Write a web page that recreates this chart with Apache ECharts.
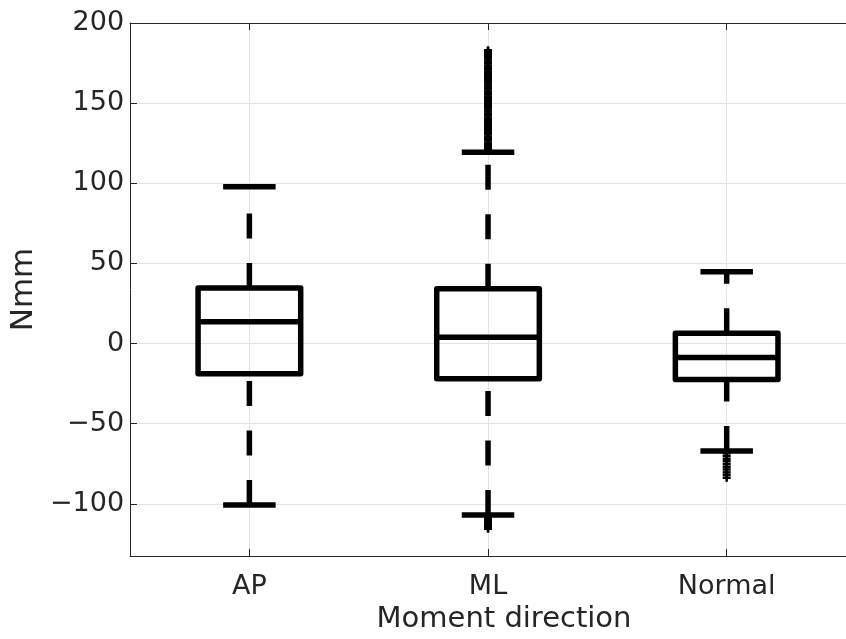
<!DOCTYPE html>
<html>
<head>
<meta charset="utf-8">
<script src="https://cdn.jsdelivr.net/npm/echarts@6/dist/echarts.min.js"></script>
<style>
html,body{margin:0;padding:0;background:#fff;}
#chart{width:846px;height:639px;}
</style>
</head>
<body>
<div id="chart"></div>
<script>
const categories = ['AP', 'ML', 'Normal'];
const lowerWhisker = [-100.8, -107.0, -67.1];
const q1 = [-18.9, -22.0, -22.4];
const median = [13.6, 3.9, -8.7];
const q3 = [34.6, 34.2, 6.4];
const upperWhisker = [97.8, 119.3, 44.8];
const outliersAP = [];
const outliersML = [120.6, 121.8, 123.1, 124.3, 125.4, 126.9, 128.0, 129.2, 130.7, 131.8, 133.1, 134.6, 135.7, 137.0, 138.4, 139.6, 140.9, 142.3, 143.5, 144.8, 146.1, 147.5, 148.7, 150.0, 151.4, 152.6, 153.9, 155.3, 156.5, 157.8, 159.2, 160.4, 161.7, 163.1, 164.3, 165.6, 167.0, 168.2, 169.5, 170.9, 172.1, 173.4, 174.8, 176.0, 177.3, 178.7, 179.9, 181.2, 182.5, 183.0,
  -108.2, -109.4, -110.5, -111.7, -112.8, -113.9, -115.0, -115.6];
const outliersNormal = [-68.4, -70.1, -71.9, -73.5, -75.3, -77.0, -78.6, -80.4, -82.0, -83.8];
const yTicks = [-100, -50, 0, 50, 100, 150, 200];
const xTicks = [1, 2, 3];

const boxData = categories.map((c, i) => [i + 1, lowerWhisker[i], q1[i], median[i], q3[i], upperWhisker[i]]);
const outlierData = [];
outliersAP.forEach(v => outlierData.push([1, v]));
outliersML.forEach(v => outlierData.push([2, v]));
outliersNormal.forEach(v => outlierData.push([3, v]));

const BLACK = '#000000';
const LW = 5.5;

function renderBox(params, api) {
  const x = api.value(0);
  const pLo = api.coord([x, api.value(1)]);
  const pA = api.coord([x, api.value(2)]);
  const pM = api.coord([x, api.value(3)]);
  const pB = api.coord([x, api.value(4)]);
  const pHi = api.coord([x, api.value(5)]);
  const halfW = api.size([0.43, 0])[0] / 2;
  const capHalf = api.size([0.22, 0])[0] / 2;
  const cx = pLo[0];
  const dash = {stroke: BLACK, lineWidth: LW, lineDash: [25, 24.5], lineCap: 'butt'};
  const solid = {stroke: BLACK, lineWidth: LW, lineCap: 'butt'};
  return {
    type: 'group',
    children: [
      {type: 'line', shape: {x1: cx, y1: pLo[1], x2: cx, y2: pA[1]}, style: dash},
      {type: 'line', shape: {x1: cx, y1: pB[1], x2: cx, y2: pHi[1]}, style: dash},
      {type: 'line', shape: {x1: cx - capHalf, y1: pLo[1], x2: cx + capHalf, y2: pLo[1]}, style: solid},
      {type: 'line', shape: {x1: cx - capHalf, y1: pHi[1], x2: cx + capHalf, y2: pHi[1]}, style: solid},
      {type: 'rect', shape: {x: cx - halfW, y: pB[1], width: 2 * halfW, height: pA[1] - pB[1]},
        style: {stroke: BLACK, lineWidth: LW, fill: null, lineJoin: 'round'}},
      {type: 'line', shape: {x1: cx - halfW, y1: pM[1], x2: cx + halfW, y2: pM[1]}, style: solid}
    ]
  };
}

function renderOutlier(params, api) {
  const p = api.coord([api.value(0), api.value(1)]);
  const h = 4;
  const st = {stroke: BLACK, lineWidth: 2.5};
  return {
    type: 'group',
    children: [
      {type: 'line', shape: {x1: p[0] - h, y1: p[1], x2: p[0] + h, y2: p[1]}, style: st},
      {type: 'line', shape: {x1: p[0], y1: p[1] - h, x2: p[0], y2: p[1] + h}, style: st}
    ]
  };
}

const FONT = 'DejaVu Sans';
const TXT = '#262626';

const chart = echarts.init(document.getElementById('chart'), null, {renderer: 'canvas'});
chart.setOption({
  animation: false,
  backgroundColor: '#ffffff',
  grid: {left: 121, top: 23, width: 734, height: 533, containLabel: false},
  xAxis: [{
    type: 'value', min: 0.5, max: 3.5, position: 'bottom',
    name: 'Moment direction', nameLocation: 'middle', nameGap: 40,
    nameTextStyle: {fontFamily: FONT, fontSize: 29, color: TXT, padding: [0, 0, 0, 32]},
    axisLine: {show: true, onZero: false, lineStyle: {color: TXT, width: 1}},
    axisTick: {show: true, inside: true, length: 7, customValues: xTicks, lineStyle: {color: TXT, width: 1}},
    axisLabel: {show: true, customValues: xTicks, margin: 17, fontFamily: FONT, fontSize: 27, color: TXT,
      formatter: v => categories[Math.round(v) - 1]},
    splitLine: {show: true, lineStyle: {color: '#e3e3e3', width: 1}}
  }, {
    type: 'value', min: 0.5, max: 3.5, position: 'top',
    axisLine: {show: true, onZero: false, lineStyle: {color: TXT, width: 1}},
    axisTick: {show: true, inside: true, length: 7, customValues: xTicks, lineStyle: {color: TXT, width: 1}},
    axisLabel: {show: false},
    splitLine: {show: false}
  }],
  yAxis: {
    type: 'value', min: -132.6, max: 200,
    name: 'Nmm', nameLocation: 'middle', nameGap: 75,
    nameTextStyle: {fontFamily: FONT, fontSize: 31, color: TXT},
    axisLine: {show: true, onZero: false, lineStyle: {color: TXT, width: 1}},
    axisTick: {show: true, inside: true, length: 7, customValues: yTicks, lineStyle: {color: TXT, width: 1}},
    axisLabel: {show: true, customValues: yTicks, margin: 6, fontFamily: FONT, fontSize: 27, color: TXT,
      formatter: v => String(v).replace('-', '\u2212')},
    splitLine: {show: true, lineStyle: {color: '#e3e3e3', width: 1}}
  },
  series: [{
    type: 'custom', xAxisIndex: 0, yAxisIndex: 0,
    renderItem: renderBox,
    encode: {x: 0, y: [1, 2, 3, 4, 5]},
    data: boxData, z: 3
  }, {
    type: 'custom', xAxisIndex: 0, yAxisIndex: 0,
    renderItem: renderOutlier,
    encode: {x: 0, y: 1},
    data: outlierData, z: 4
  }]
});
</script>
</body>
</html>
